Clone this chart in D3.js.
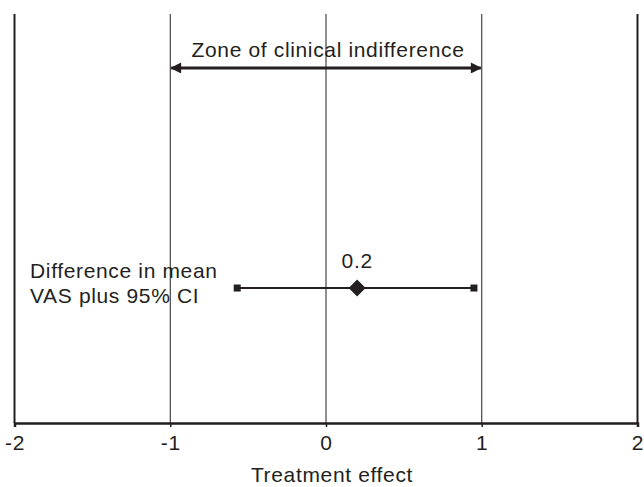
<!DOCTYPE html>
<html><head><meta charset="utf-8">
<script src="https://cdn.jsdelivr.net/npm/d3@7"></script>
<style>
body{margin:0;background:#fff;}
text{font-family:"Liberation Sans",Arial,Helvetica,sans-serif;fill:#231f20;}
</style></head><body>
<svg id="c" width="644" height="487"></svg>
<script>
const xTicks = [-2, -1, 0, 1, 2];
const xTickLabels = ["-2", "-1", "0", "1", "2"];
const zone = [-1, 1];
const zoneLabel = "Zone of clinical indifference";
const estimate = [0.2];
const ciLow = [-0.57];
const ciHigh = [0.95];
const estimateLabels = ["0.2"];
const rowLabels = [["Difference in mean", "VAS plus 95% CI"]];
const xTitle = "Treatment effect";

const W = 644, H = 487;
const m = {l: 14.5, r: 6.5, t: 14, b: 64};
const FS = 21, LS = 0.65;
const svg = d3.select("#c");
const ink = "#231f20";
const x = d3.scaleLinear().domain([-2, 2]).range([m.l, W - m.r]);
const y = d3.scaleLinear().domain([0, 1]).range([H - m.b, m.t]);
const rowY = 0.33, zoneY = 0.868;

// vertical lines at -1, 0, 1 (thin)
svg.append("g").selectAll("line").data(xTicks.filter(d => d > -2 && d < 2)).join("line")
  .attr("x1", d => x(d)).attr("x2", d => x(d))
  .attr("y1", y(1)).attr("y2", y(0))
  .attr("stroke", ink).attr("stroke-width", 1);

// side borders
svg.append("g").selectAll("line").data([-2, 2]).join("line")
  .attr("x1", d => x(d)).attr("x2", d => x(d))
  .attr("y1", y(1)).attr("y2", y(0))
  .attr("stroke", ink).attr("stroke-width", 2);

// x axis
const ax = svg.append("g").attr("transform", `translate(0,${y(0)})`)
  .call(d3.axisBottom(x).tickValues(xTicks).tickFormat((d, i) => xTickLabels[i]).tickSize(4).tickPadding(8));
ax.select(".domain").attr("stroke", ink).attr("stroke-width", 2.5);
ax.selectAll(".tick line").attr("stroke", ink).attr("stroke-width", 1.5);
ax.selectAll(".tick text").attr("font-size", FS).attr("letter-spacing", LS).attr("fill", ink)
  .style("font-family", '"Liberation Sans",Arial,sans-serif');

svg.append("text").attr("x", 332).attr("y", 482).attr("text-anchor", "middle")
  .attr("font-size", FS).attr("letter-spacing", LS).text(xTitle);

// zone arrow
const defs = svg.append("defs");
defs.append("marker").attr("id", "ah").attr("viewBox", "0 0 10 10").attr("refX", 9).attr("refY", 5)
  .attr("markerWidth", 12).attr("markerHeight", 11).attr("markerUnits", "userSpaceOnUse")
  .attr("orient", "auto-start-reverse")
  .append("path").attr("d", "M0,0 L10,5 L0,10 Z").attr("fill", ink);
svg.append("line").attr("x1", x(zone[0]) + 1).attr("x2", x(zone[1]) - 1)
  .attr("y1", y(zoneY)).attr("y2", y(zoneY))
  .attr("stroke", ink).attr("stroke-width", 3)
  .attr("marker-start", "url(#ah)").attr("marker-end", "url(#ah)");
svg.append("text").attr("x", x((zone[0] + zone[1]) / 2) + 2).attr("y", 57).attr("text-anchor", "middle")
  .attr("font-size", FS).attr("letter-spacing", LS).text(zoneLabel);

// CI
const g = svg.append("g");
g.selectAll("line.ci").data(estimate).join("line").attr("class", "ci")
  .attr("x1", (d, i) => x(ciLow[i])).attr("x2", (d, i) => x(ciHigh[i]))
  .attr("y1", y(rowY)).attr("y2", y(rowY))
  .attr("stroke", ink).attr("stroke-width", 2);
const ends = [];
estimate.forEach((d, i) => { ends.push(ciLow[i], ciHigh[i]); });
g.selectAll("rect.end").data(ends).join("rect").attr("class", "end")
  .attr("x", d => x(d) - 3.5).attr("y", y(rowY) - 3.5).attr("width", 7).attr("height", 7).attr("fill", ink);
g.selectAll("path.est").data(estimate).join("path").attr("class", "est")
  .attr("d", d => { const cx = x(d), cy = y(rowY), r = 8.5; return `M${cx},${cy - r} L${cx + r},${cy} L${cx},${cy + r} L${cx - r},${cy} Z`; })
  .attr("fill", ink);
g.selectAll("text.est").data(estimate).join("text").attr("class", "est")
  .attr("x", d => x(d)).attr("y", y(rowY) - 20).attr("text-anchor", "middle")
  .attr("font-size", FS).attr("letter-spacing", LS).text((d, i) => estimateLabels[i]);

// row label
rowLabels.forEach((lines, i) => {
  const t = svg.append("text").attr("font-size", FS).attr("letter-spacing", LS);
  lines.forEach((s, j) => t.append("tspan").attr("x", 30).attr("y", y(rowY) - 10 + j * 25).text(s));
});
</script>
</body></html>
